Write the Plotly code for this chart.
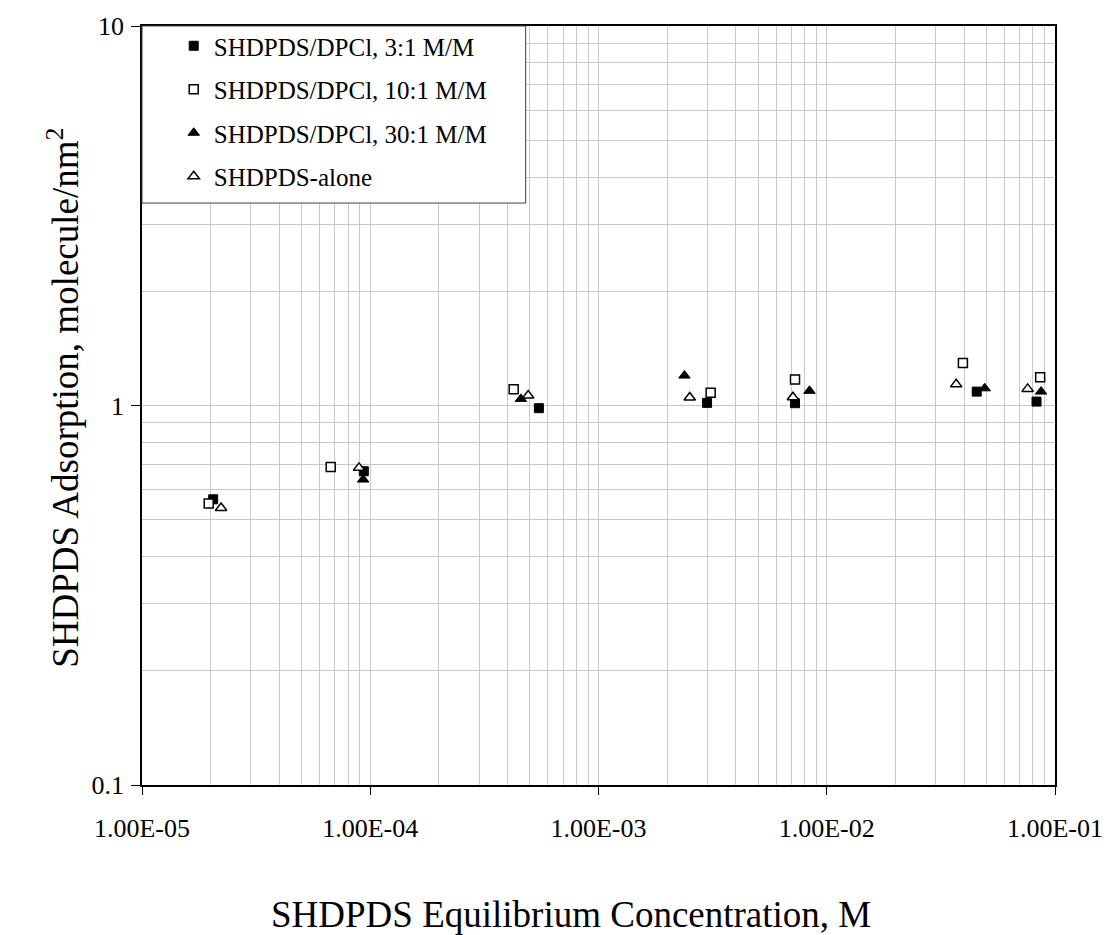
import plotly.graph_objects as go

# ---- data ----
conc_3to1 = [2.05e-5, 9.37e-5, 5.48e-4, 2.99e-3, 7.26e-3, 4.54e-2, 8.30e-2]
ads_3to1 = [0.566, 0.671, 0.984, 1.016, 1.014, 1.088, 1.024]

conc_10to1 = [1.96e-5, 6.71e-5, 4.25e-4, 3.10e-3, 7.26e-3, 3.95e-2, 8.61e-2]
ads_10to1 = [0.552, 0.689, 1.104, 1.080, 1.170, 1.294, 1.187]

conc_30to1 = [9.31e-5, 4.57e-4, 2.38e-3, 8.40e-3, 4.92e-2, 8.69e-2]
ads_30to1 = [0.638, 1.041, 1.199, 1.093, 1.110, 1.088]

conc_alone = [2.22e-5, 8.93e-5, 4.92e-4, 2.51e-3, 7.11e-3, 3.69e-2, 7.59e-2]
ads_alone = [0.537, 0.685, 1.062, 1.050, 1.051, 1.137, 1.106]

series_names = ["SHDPDS/DPCl, 3:1 M/M", "SHDPDS/DPCl, 10:1 M/M",
                "SHDPDS/DPCl, 30:1 M/M", "SHDPDS-alone"]

x_tickvals = [1e-5, 1e-4, 1e-3, 1e-2, 1e-1]
x_ticktext = ["1.00E-05", "1.00E-04", "1.00E-03", "1.00E-02", "1.00E-01"]
y_tickvals = [0.1, 1, 10]
y_ticktext = ["0.1", "1", "10"]

x_title = "SHDPDS Equilibrium Concentration, M"
y_title = "SHDPDS Adsorption, molecule/nm<sup>2</sup>"

FONT = "Liberation Serif"
W, H = 1115, 935
L, R, T, B = 142, 52, 22, 150
PW, PH = W - L - R, H - T - B

fig = go.Figure()
styles = [
    dict(symbol="square", color="black", line=dict(color="black", width=1), size=9),
    dict(symbol="square", color="white", line=dict(color="black", width=1.5), size=9),
    dict(symbol="triangle-up", color="black", line=dict(color="black", width=1), size=10),
    dict(symbol="triangle-up", color="white", line=dict(color="black", width=1.5), size=10),
]
datasets = [(conc_3to1, ads_3to1), (conc_10to1, ads_10to1),
            (conc_30to1, ads_30to1), (conc_alone, ads_alone)]
for i, ((xs, ys), name, st) in enumerate(zip(datasets, series_names, styles)):
    fig.add_trace(go.Scatter(x=xs, y=ys, mode="markers", name=name,
                             legendgroup=f"g{i}", marker=st))

grid_col = "#c8c8c8"
fig.update_layout(
    width=W, height=H,
    margin=dict(l=L, r=R, t=T, b=B, pad=0),
    paper_bgcolor="white", plot_bgcolor="white",
    font=dict(family=FONT, color="black", size=25),
    showlegend=True,
    legend=dict(x=(174 - L) / PW, y=1 + 3 / PH, xanchor="left", yanchor="top",
                bgcolor="rgba(0,0,0,0)", borderwidth=0,
                font=dict(family=FONT, size=25, color="black"),
                traceorder="grouped", tracegroupgap=8, itemsizing="trace"),
    xaxis=dict(type="log", range=[-5, -1], tickmode="array",
               tickvals=x_tickvals, ticktext=x_ticktext,
               ticks="outside", ticklen=8, tickwidth=1, tickcolor="black",
               showline=True, linecolor="black", linewidth=1.5, mirror=True,
               showgrid=True, gridcolor=grid_col, gridwidth=1,
               minor=dict(dtick="D1", showgrid=True, gridcolor=grid_col, gridwidth=1, ticks=""),
               tickfont=dict(family=FONT, size=26), zeroline=False,
               ticklabelstandoff=11),
    yaxis=dict(type="log", range=[-1, 1], tickmode="array",
               tickvals=y_tickvals, ticktext=y_ticktext,
               ticks="outside", ticklen=9, tickwidth=1, tickcolor="black",
               showline=True, linecolor="black", linewidth=1.5, mirror=True,
               showgrid=True, gridcolor=grid_col, gridwidth=1,
               minor=dict(dtick="D1", showgrid=True, gridcolor=grid_col, gridwidth=1, ticks=""),
               tickfont=dict(family=FONT, size=26), zeroline=False,
               ticklabelstandoff=2),
    shapes=[dict(type="rect", xref="paper", yref="paper",
                 x0=0, x1=(529 - L) / PW, y0=1 - (200 - T) / PH, y1=1,
                 fillcolor="white", line=dict(color="#404040", width=1), layer="above")],
    annotations=[
        dict(text=x_title, xref="paper", yref="paper",
             x=(575 - L) / PW, y=-(915 - (H - B)) / PH, xanchor="center", yanchor="middle",
             showarrow=False, font=dict(family=FONT, size=37, color="black")),
        dict(text=y_title, xref="paper", yref="paper", textangle=-90,
             x=-(L - 62) / PW, y=1 - (396 - T) / PH, xanchor="center", yanchor="middle",
             showarrow=False, font=dict(family=FONT, size=37, color="black")),
    ],
)

fig.write_html("out.html")
